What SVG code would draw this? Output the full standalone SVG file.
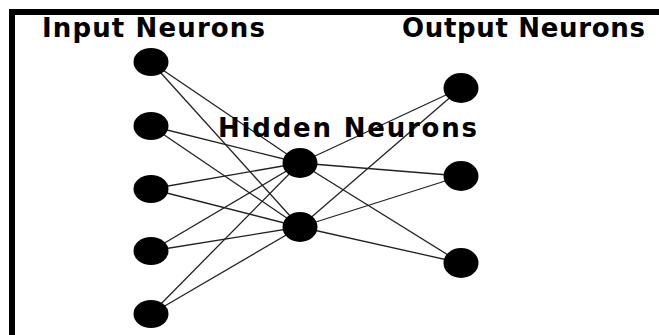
<svg xmlns="http://www.w3.org/2000/svg" width="659" height="335" viewBox="0 0 659 335">
<style>
.lbl{font-family:"DejaVu Sans","Liberation Sans",Arial,sans-serif;font-weight:bold;font-size:26px;fill:#000}
.n{fill:#000}
.c line{stroke:#222;stroke-width:1.3}
</style>
<rect width="659" height="335" fill="#fff"/>
<rect x="9" y="9" width="650" height="6" fill="#000"/>
<rect x="9" y="9" width="6" height="326" fill="#000"/>
<g id="connectors" class="c">
<line x1="151" y1="62" x2="300" y2="163"/>
<line x1="151" y1="62" x2="300" y2="227"/>
<line x1="151" y1="126" x2="300" y2="163"/>
<line x1="151" y1="126" x2="300" y2="227"/>
<line x1="151" y1="189" x2="300" y2="163"/>
<line x1="151" y1="189" x2="300" y2="227"/>
<line x1="151" y1="251" x2="300" y2="163"/>
<line x1="151" y1="251" x2="300" y2="227"/>
<line x1="151" y1="314" x2="300" y2="163"/>
<line x1="151" y1="314" x2="300" y2="227"/>
<line x1="300" y1="163" x2="461" y2="88"/>
<line x1="300" y1="163" x2="461" y2="176"/>
<line x1="300" y1="163" x2="461" y2="263"/>
<line x1="300" y1="227" x2="461" y2="88"/>
<line x1="300" y1="227" x2="461" y2="176"/>
<line x1="300" y1="227" x2="461" y2="263"/>
</g>
<g id="in1"><ellipse class="n" cx="151" cy="62" rx="17.5" ry="14"/></g>
<g id="in2"><ellipse class="n" cx="151" cy="126" rx="17.5" ry="14"/></g>
<g id="in3"><ellipse class="n" cx="151" cy="189" rx="17.5" ry="14"/></g>
<g id="in4"><ellipse class="n" cx="151" cy="251" rx="17.5" ry="14"/></g>
<g id="in5"><ellipse class="n" cx="151" cy="314" rx="17.5" ry="14"/></g>
<g id="hid1"><ellipse class="n" cx="300" cy="163" rx="17.5" ry="15"/></g>
<g id="hid2"><ellipse class="n" cx="300" cy="227" rx="17.5" ry="15"/></g>
<g id="out1"><ellipse class="n" cx="461" cy="88" rx="17.5" ry="15"/></g>
<g id="out2"><ellipse class="n" cx="461" cy="176" rx="17.5" ry="15"/></g>
<g id="out3"><ellipse class="n" cx="461" cy="263" rx="17.5" ry="15"/></g>
<text class="lbl" x="42" y="37" textLength="223" lengthAdjust="spacing">Input Neurons</text>
<text class="lbl" x="402" y="37" textLength="243" lengthAdjust="spacing">Output Neurons</text>
<text class="lbl" x="218" y="137" textLength="259" lengthAdjust="spacing">Hidden Neurons</text>
</svg>
